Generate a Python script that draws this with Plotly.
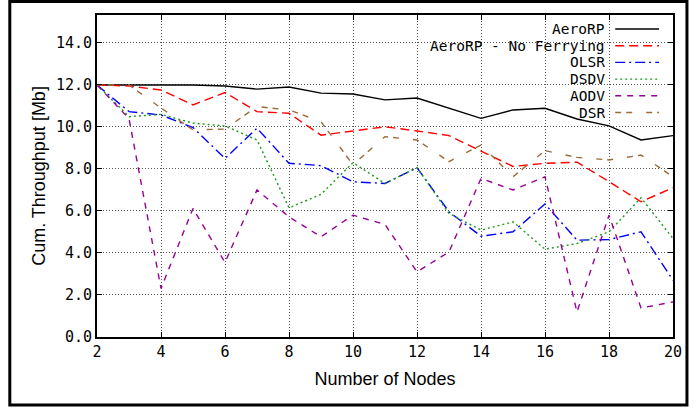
import plotly.graph_objects as go

# Number of nodes on the x axis
nodes = list(range(2, 21))

# Cumulative throughput [Mb] per routing protocol
aerorp = [12.0, 12.0, 12.0, 12.0, 11.95, 11.8, 11.9, 11.61, 11.57, 11.29,
          11.38, 10.89, 10.41, 10.81, 10.89, 10.38, 10.05, 9.38, 9.59]
aerorp_noferry = [12.0, 11.95, 11.76, 11.05, 11.64, 10.73, 10.65, 9.61, 9.81, 10.01,
                  9.81, 9.59, 8.85, 8.12, 8.27, 8.32, 7.4, 6.44, 7.11]
olsr = [12.0, 10.73, 10.57, 9.97, 8.5, 9.94, 8.27, 8.16, 7.39, 7.31,
        8.06, 5.96, 4.8, 5.01, 6.33, 4.61, 4.64, 5.01, 2.7]
dsdv = [12.0, 10.49, 10.6, 10.18, 10.05, 9.38, 6.15, 6.79, 8.3, 7.31,
        8.06, 5.88, 5.09, 5.48, 4.18, 4.45, 5.01, 6.63, 4.69]
aodv = [12.0, 10.4, 2.31, 6.12, 3.55, 7.0, 5.72, 4.77, 5.8, 5.36,
        3.1, 4.05, 7.55, 7.0, 7.63, 1.19, 5.8, 1.38, 1.67]
dsr = [12.0, 12.0, 10.9, 9.86, 9.9, 10.97, 10.81, 10.25, 8.2, 9.54,
       9.38, 8.35, 9.14, 7.63, 8.87, 8.55, 8.43, 8.66, 7.63]

x_ticks = list(range(2, 21, 2))
y_ticks = [0, 2, 4, 6, 8, 10, 12, 14]
y_tick_labels = ["0.0", "2.0", "4.0", "6.0", "8.0", "10.0", "12.0", "14.0"]

series = [
    ("AeroRP", aerorp, "#000000", "solid"),
    ("AeroRP - No Ferrying", aerorp_noferry, "#ff0000", "9px,5px"),
    ("OLSR", olsr, "#0000ff", "10px,4px,2px,4px"),
    ("DSDV", dsdv, "#1a9a1a", "2px,3px"),
    ("AODV", aodv, "#960096", "6px,6px"),
    ("DSR", dsr, "#9c6b3a", "6px,5px,6px,14px"),
]

W, H = 694, 410
L, R, T, B = 97, 19, 15, 73
PW, PH = W - L - R, H - T - B


def px_x(px):
    return (px - L) / PW


def px_y(py):
    return (H - B - py) / PH


fig = go.Figure()
for name, vals, color, dash in series:
    fig.add_trace(go.Scatter(
        x=nodes, y=vals, mode="lines", name=name,
        line=dict(color=color, width=1.4, dash=dash),
        showlegend=False,
    ))

shapes = []
# opaque key box: hides grid lines but stays under the data lines
shapes.append(dict(type="rect", xref="paper", yref="paper", layer="between",
                   x0=px_x(473), x1=1.0, y0=px_y(121), y1=1.0,
                   fillcolor="white", line=dict(width=0)))
# outer frame around the whole figure
shapes.append(dict(type="rect", xref="paper", yref="paper", layer="above",
                   x0=px_x(9.5), x1=px_x(689), y0=px_y(405), y1=px_y(1.5),
                   line=dict(color="black", width=3)))

annotations = []
row0, row_step = 29, 16.7
for i, (name, vals, color, dash) in enumerate(series):
    ry = row0 + i * row_step
    annotations.append(dict(
        x=px_x(609), y=px_y(ry), xref="paper", yref="paper",
        text=name, showarrow=False, xanchor="right", yanchor="middle",
        height=16, valign="middle",
        font=dict(family="DejaVu Sans Mono", size=14.5, color="black"),
    ))
    shapes.append(dict(type="line", xref="paper", yref="paper", layer="above",
                       x0=px_x(617), x1=px_x(661), y0=px_y(ry), y1=px_y(ry),
                       line=dict(color=color, width=1.4, dash=dash)))

grid_style = dict(showgrid=True, gridcolor="#555555", gridwidth=1, griddash="1px,2px")

fig.update_layout(
    width=W, height=H,
    margin=dict(l=L, r=R, t=T, b=B),
    paper_bgcolor="white", plot_bgcolor="white",
    shapes=shapes, annotations=annotations,
    xaxis=dict(
        range=[2, 20], tickvals=x_ticks, ticktext=[str(v) for v in x_ticks],
        showline=True, linecolor="black", linewidth=2, mirror="allticks",
        ticks="inside", ticklen=5, tickcolor="black",
        zeroline=False, **grid_style,
        tickfont=dict(family="DejaVu Sans Mono", size=15, color="black"),
        title=dict(text="Number of Nodes", standoff=12,
                   font=dict(family="Liberation Sans", size=18, color="black")),
    ),
    yaxis=dict(
        range=[0, 15.33], tickvals=y_ticks, ticktext=y_tick_labels,
        showline=True, linecolor="black", linewidth=2, mirror="allticks",
        ticks="inside", ticklen=5, tickcolor="black",
        zeroline=False, **grid_style,
        tickfont=dict(family="DejaVu Sans Mono", size=15, color="black"),
        title=dict(text="Cum. Throughput [Mb]", standoff=6,
                   font=dict(family="Liberation Sans", size=18, color="black")),
    ),
)

fig.write_html("out.html")
